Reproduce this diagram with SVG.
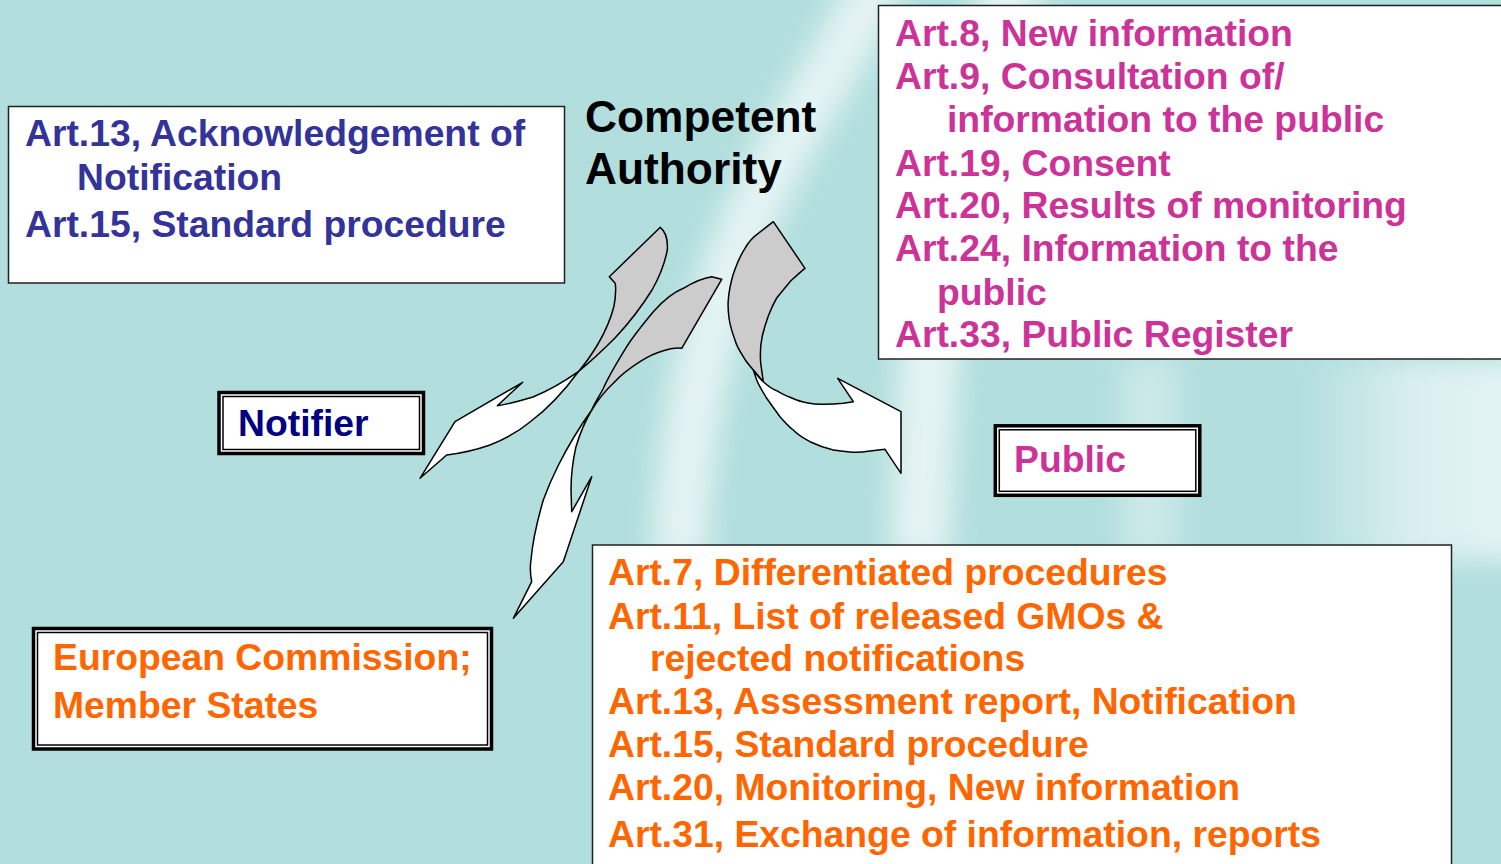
<svg xmlns="http://www.w3.org/2000/svg" width="1501" height="864" viewBox="0 0 1501 864">
<defs>
<style>
.t{font-family:"Liberation Sans",Arial,sans-serif;font-weight:bold;font-size:37.3px}
.blue{fill:#333399}.pink{fill:#cc3399}.orange{fill:#ff6600}.navy{fill:#000080}.blk{fill:#000}
.box{fill:#fff;stroke:#222;stroke-width:1.5}
.outer{fill:#fff;stroke:#000;stroke-width:3.5}
.inner{fill:none;stroke:#000;stroke-width:1.5}
.back{fill:#cccccc;stroke:#000;stroke-width:1.5;stroke-linejoin:round}
.front{fill:#fff;stroke:#000;stroke-width:1.5;stroke-linejoin:round}
</style>
<filter id="blur" x="-50%" y="-50%" width="200%" height="200%"><feGaussianBlur stdDeviation="14"/></filter>
<linearGradient id="rg" x1="0" y1="0" x2="1" y2="0">
<stop offset="0" stop-color="#fff" stop-opacity="0"/>
<stop offset="0.5" stop-color="#fff" stop-opacity="0.7"/>
<stop offset="1" stop-color="#fff" stop-opacity="0.9"/>
</linearGradient>
</defs>
<rect width="1501" height="864" fill="#b2dede"/>
<g id="background" filter="url(#blur)" opacity="0.75">
<path d="M880 -20 C 800 140, 690 240, 680 560" fill="none" stroke="#f4fbf9" stroke-width="55"/>
<path d="M1020 -20 C 960 100, 930 200, 920 560" fill="none" stroke="#f4fbf9" stroke-width="60"/>
<rect x="1300" y="360" width="230" height="200" fill="url(#rg)"/>
<rect x="1120" y="360" width="60" height="200" fill="#f4fbf9" opacity="0.5"/>
</g>
<g id="box-notifier-articles">
<rect class="box" x="8.5" y="106.5" width="556" height="176.5"/>
<text class="t blue" x="25" y="146">Art.13, Acknowledgement of</text>
<text class="t blue" x="77" y="190">Notification</text>
<text class="t blue" x="25" y="237">Art.15, Standard procedure</text>
</g>
<g id="competent-authority">
<text class="t blk" style="font-size:44.3px" x="585" y="132">Competent</text>
<text class="t blk" style="font-size:44.3px" x="585" y="184">Authority</text>
</g>
<g id="box-public-articles">
<rect class="box" x="878.5" y="5.5" width="640" height="353.5"/>
<text class="t pink" x="895" y="46">Art.8, New information</text>
<text class="t pink" x="895" y="89">Art.9, Consultation of/</text>
<text class="t pink" x="947" y="132">information to the public</text>
<text class="t pink" x="895" y="176">Art.19, Consent</text>
<text class="t pink" x="895" y="218">Art.20, Results of monitoring</text>
<text class="t pink" x="895" y="261">Art.24, Information to the</text>
<text class="t pink" x="937" y="305">public</text>
<text class="t pink" x="895" y="347">Art.33, Public Register</text>
</g>
<g id="notifier">
<rect class="outer" x="219" y="392.5" width="204.5" height="61"/>
<rect class="inner" x="223" y="396.5" width="196.5" height="53"/>
<text class="t navy" x="238" y="436">Notifier</text>
</g>
<g id="public">
<rect class="outer" x="995.3" y="425.8" width="204.5" height="69.5"/>
<rect class="inner" x="999.3" y="429.8" width="196.5" height="61.5"/>
<text class="t pink" x="1014" y="472">Public</text>
</g>
<g id="ec-member-states">
<rect class="outer" x="33.5" y="628.5" width="458" height="120.5"/>
<rect class="inner" x="37.5" y="632.5" width="450" height="112.5"/>
<text class="t orange" x="53" y="670">European Commission;</text>
<text class="t orange" x="53" y="718">Member States</text>
</g>
<g id="box-ec-articles">
<rect class="box" x="592.5" y="545" width="859" height="340"/>
<text class="t orange" x="608" y="585">Art.7, Differentiated procedures</text>
<text class="t orange" x="608" y="629">Art.11, List of released GMOs &amp;</text>
<text class="t orange" x="650" y="671">rejected notifications</text>
<text class="t orange" x="608" y="714">Art.13, Assessment report, Notification</text>
<text class="t orange" x="608" y="757">Art.15, Standard procedure</text>
<text class="t orange" x="608" y="800">Art.20, Monitoring, New information</text>
<text class="t orange" x="608" y="847">Art.31, Exchange of information, reports</text>
</g>
<g id="connectors">
<g id="arrow-to-notifier">
<path class="back" d="M660.3 227.3 C666 232 668 240 667.3 250 C665 262 660 276 652 290 C642 306 630 322 615 338 C602 351 590 362 578.3 371.7 C585 364 592 354 598 344 C605 332 611 318 614 306 C616 295 616 285 615 283 L609.3 276.7 Z"/>
<path class="front" d="M578.3 371.7 C565 381 548 391 533 397 C520 401 508 404 497.3 405.7 L522.7 382.3 L455 421.7 L420 478.3 L446.7 455 C455 454 470 452 490 445 C505 439 518 432 530 422 C546 410 562 394 578.3 371.7 Z"/>
</g>
<g id="arrow-to-ec">
<path class="back" d="M721.7 279.3 L681.7 348.3 C675 347 668 349 663.3 350.7 C655 353 647 357 640 361.7 C630 368 620 376 613.3 383.3 C606 390 598 400 591.7 410 C595 402 600 395 603 389 C608 378 616 364 626.7 346.7 C634 335 645 322 653.3 311.7 C662 302 672 293 683.3 288.3 C692 283 703 278 711.7 276.7 Z"/>
<path class="front" d="M591.7 410 C587 418 580 433 576 446.7 C573 460 571 476 571 490 L571.7 511.7 L591.7 476.7 L563.3 561.7 L513.3 618.3 L531.7 581.7 C530 573 530 566 531 560 C532 548 536 525 543.3 500 C548 487 553 476 558 466 C565 452 576 432 591.7 410 Z"/>
</g>
<g id="arrow-to-public">
<path class="back" d="M773.3 221.7 L805 268.3 C799 273 794 278 790 281.7 C784 289 779 295 776.7 298 C772 306 770 312 768.3 316 C765 325 763 333 762.3 336 C760 346 760 354 760.7 363.3 L763.3 381.7 C760 378 756 373 753.3 370 C748 364 745 360 743.3 356.7 C739 350 736 344 735 340 C732 332 730 325 729 318 C728 310 728 303 728.3 300 C729 290 731 282 733 275 C736 266 740 256 745 248.3 C749 241 753 237 758.3 233.3 Z"/>
<path class="front" d="M753.3 370 C757 375 760 379 763.3 381.7 C768 386 772 389 776.7 390.7 C782 394 786 396 790 397.3 C796 400 801 402 806.7 402.7 C813 404 818 404.5 823.3 404.3 C830 404.3 837 404 843.3 403.3 L853.3 401.7 L837.7 378.3 L901 411.7 L901 473.3 L885 449.3 L870 451 C864 452 858 452.5 853.3 452.3 C846 452 840 451 833.3 450 C825 448 817 445 810 441.7 C803 438 797 434 793.3 430 C788 426 784 421 780 416.7 C775 410 770 403 766.7 398.3 C763 392 759 386 756.7 380 Z"/>
</g>
</g>
</svg>
